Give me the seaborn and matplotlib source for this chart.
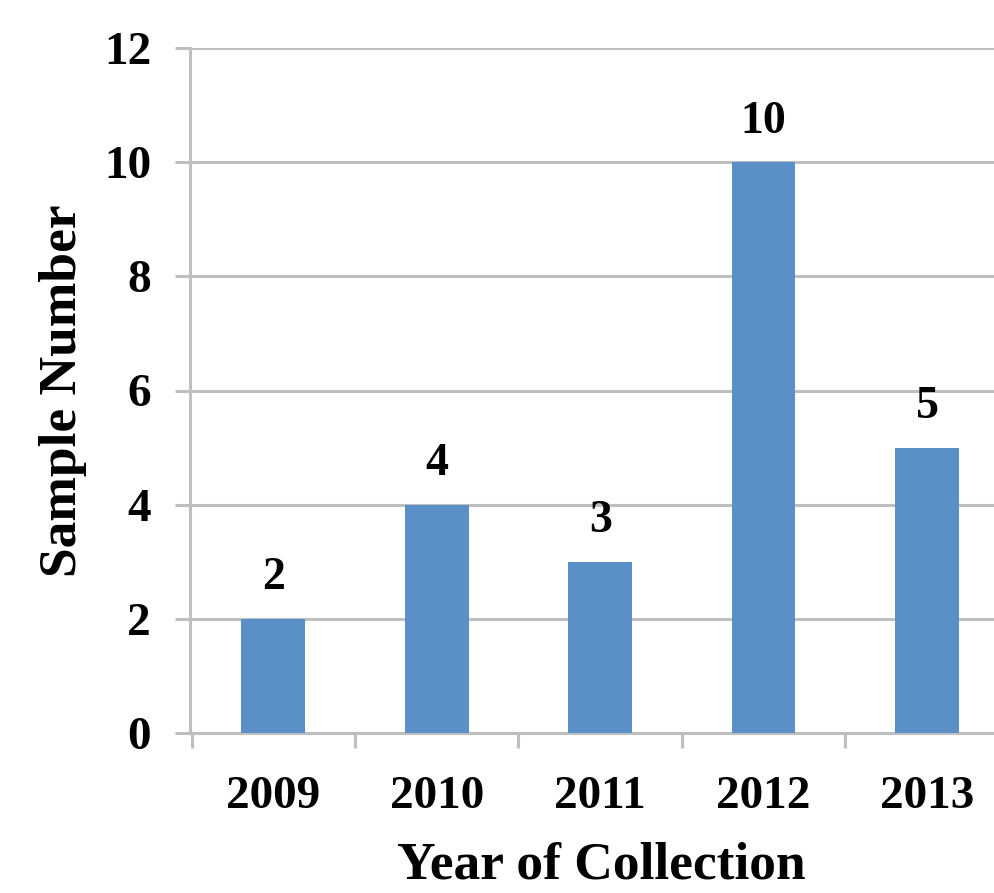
import matplotlib
matplotlib.use("Agg")
import matplotlib.pyplot as plt
import seaborn as sns
import pandas as pd
import numpy as np
from matplotlib.ticker import FixedLocator

# Samples collected per year
years = ["2009", "2010", "2011", "2012", "2013"]
counts = [2, 4, 3, 10, 5]
y_ticks = [0, 2, 4, 6, 8, 10, 12]

df = pd.DataFrame({"Year": years, "Count": counts})

sns.set_style("white")
plt.rcParams["font.family"] = ["Liberation Serif", "DejaVu Serif"]
plt.rcParams["font.weight"] = "bold"
plt.rcParams["text.color"] = "black"
plt.rcParams["xtick.color"] = "black"
plt.rcParams["ytick.color"] = "black"
plt.rcParams["axes.labelcolor"] = "black"

grey = "#bfbfbf"
bar_color = "#5B8FC8"

fig = plt.figure(figsize=(9.94, 8.93), dpi=100)
ax = fig.add_axes([190 / 994, 1 - 733 / 893, 1 - 190 / 994, (733 - 48) / 893])

sns.barplot(data=df, x="Year", y="Count", color=bar_color, width=0.39,
            saturation=1, linewidth=0, ax=ax, zorder=3)

ax.set_ylim(0, 12)
ax.set_xlim(-0.51, 4.41)
ax.set_yticks(y_ticks)
ax.yaxis.grid(True, color=grey, linewidth=2.2, zorder=0)
ax.set_axisbelow(True)

for side in ["top", "right"]:
    ax.spines[side].set_visible(False)
for side in ["left", "bottom"]:
    ax.spines[side].set_color(grey)
    ax.spines[side].set_linewidth(2.2)

# category boundary ticks on the x axis
ax.xaxis.set_minor_locator(FixedLocator(np.arange(-0.5, len(years), 1.0)))
ax.tick_params(axis="x", which="major", bottom=True, length=0, pad=31,
               labelsize=34, labelcolor="black")
ax.tick_params(axis="x", which="minor", bottom=True, length=11, width=2.2,
               color=grey)
ax.tick_params(axis="y", which="major", left=True, length=11, width=2.2,
               color=grey, pad=17, labelsize=34, labelcolor="black")
for lbl in ax.get_xticklabels() + ax.get_yticklabels():
    lbl.set_fontweight("bold")

ax.set_xlabel("Year of Collection", fontsize=38.5, fontweight="bold", color="black")
ax.xaxis.set_label_coords(0.511, -0.158)
ax.set_ylabel("Sample Number", fontsize=38.5, fontweight="bold", color="black")
ax.yaxis.set_label_coords(-0.128, 0.5)

for cont in ax.containers:
    ax.bar_label(cont, labels=[str(c) for c in counts], padding=14,
                 fontsize=33, fontweight="bold", color="black")

fig.savefig("out.png", dpi=100)
